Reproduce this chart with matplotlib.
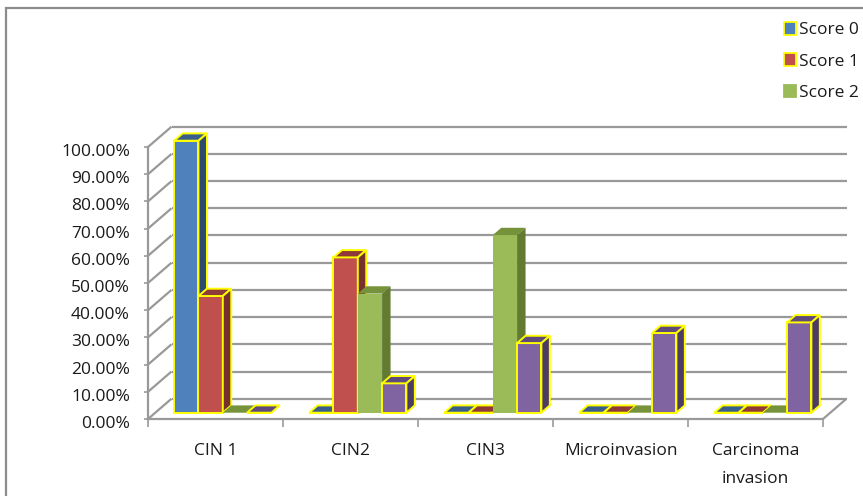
import matplotlib
matplotlib.use("Agg")
import matplotlib.pyplot as plt
from matplotlib.patches import Polygon, Rectangle, Patch
from matplotlib.transforms import ScaledTranslation

plt.rcParams['font.family'] = ['Open Sans', 'DejaVu Sans']

categories = ["CIN 1", "CIN2", "CIN3", "Microinvasion", "Carcinoma\ninvasion"]
series_names = ["Score 0", "Score 1", "Score 2", "Score 3"]
score0 = [100.0, 0.0, 0.0, 0.0, 0.0]
score1 = [42.9, 57.1, 0.0, 0.0, 0.0]
score2 = [0.0, 43.8, 65.3, 0.0, 0.0]
score3 = [0.0, 10.8, 25.6, 29.3, 33.2]
y_ticks = [0, 10, 20, 30, 40, 50, 60, 70, 80, 90, 100]

series = [score0, score1, score2, score3]
front_colors = ["#4f81bd", "#c0504d", "#9bbb59", "#8064a2"]
top_colors = ["#395e8c", "#8d3a38", "#76933c", "#5f4a7c"]
side_colors = ["#2d4b72", "#76302e", "#627b31", "#4c3b64"]
edge_colors = ["#ffff00", "#ffff00", "none", "#ffff00"]

FS = 12.5
TXT = "#1a1a1a"

W, H = 863, 496
fig = plt.figure(figsize=(W / 100, H / 100), dpi=100)
fig.patch.set_facecolor("white")

# chart frame
fig.add_artist(Rectangle((6 / W, -0.2), 1.2, 1.2 - 8.3 / H,
                         transform=fig.transFigure, fill=False,
                         edgecolor="#8c8c8c", linewidth=1.6))

# front plane of the 3-D plot area
ax = fig.add_axes([148 / W, (H - 419) / H, 675 / W, 272 / H])
ax.set_xlim(0, len(categories))
ax.set_ylim(0, 100)
ax.set_facecolor("none")

# depth of the box in data units
dxu = 23.5 / 135.0
dyu = 20.3 / 2.72
grid_kw = dict(color="#999999", linewidth=1.6, clip_on=False, zorder=1,
               solid_capstyle="butt")
n = len(categories)
for v in y_ticks:
    ax.plot([dxu, n + dxu], [v + dyu, v + dyu], **grid_kw)
    ax.plot([0, dxu], [v, v + dyu], **grid_kw)
# floor right edge
ax.plot([n, n + dxu], [0, dyu], **grid_kw)

# bars
bw = 0.18
f0 = 0.31
dep = 0.36
for k, vals in enumerate(series):
    for i, v in enumerate(vals):
        x0 = i + 0.5 + (k - 2) * bw + f0 * dxu
        y0 = f0 * dyu
        ec = edge_colors[k]
        lw = 1.4 if ec != "none" else 0
        ax.bar(x0, v, width=bw, bottom=y0, align="edge",
               color=front_colors[k], edgecolor=ec, linewidth=lw,
               clip_on=False, zorder=3 + k)
        ddx, ddy = dep * dxu, dep * dyu
        top = Polygon([(x0, y0 + v), (x0 + bw, y0 + v),
                       (x0 + bw + ddx, y0 + v + ddy), (x0 + ddx, y0 + v + ddy)],
                      closed=True, facecolor=top_colors[k], edgecolor=ec,
                      linewidth=lw, clip_on=False, zorder=3 + k)
        ax.add_patch(top)
        if v > 0:
            side = Polygon([(x0 + bw, y0), (x0 + bw, y0 + v),
                            (x0 + bw + ddx, y0 + v + ddy), (x0 + bw + ddx, y0 + ddy)],
                           closed=True, facecolor=side_colors[k], edgecolor=ec,
                           linewidth=lw, clip_on=False, zorder=3 + k)
            ax.add_patch(side)

# axes
for s in ["top", "right"]:
    ax.spines[s].set_visible(False)
for s in ["left", "bottom"]:
    ax.spines[s].set_color("#999999")
    ax.spines[s].set_linewidth(1.6)
    ax.spines[s].set_zorder(2)

ax.set_yticks(y_ticks)
ax.set_yticklabels([f"{t:.2f}%" for t in y_ticks])
ax.tick_params(axis="y", length=3, width=1.2, color="#999999", pad=10,
               labelsize=FS, labelcolor=TXT)
shift = ScaledTranslation(0, -3 / 100, fig.dpi_scale_trans)
for lab in ax.get_yticklabels():
    lab.set_transform(lab.get_transform() + shift)

ax.set_xticks(range(n + 1))
ax.set_xticklabels([])
ax.set_xticks([i + 0.5 for i in range(n)], minor=True)
ax.set_xticklabels(categories, minor=True, linespacing=2.0)
ax.tick_params(axis="x", which="major", length=6, width=1.2, color="#999999")
ax.tick_params(axis="x", which="minor", length=0, pad=17.5, labelsize=FS,
               labelcolor=TXT)

# legend
handles = [Patch(facecolor=front_colors[k],
                 edgecolor=edge_colors[k] if edge_colors[k] != "none" else front_colors[k],
                 linewidth=1.3, label=series_names[k]) for k in range(3)]
fig.legend(handles=handles, loc="upper left",
           bbox_to_anchor=(777 / W, 1 - 15 / H), frameon=False,
           fontsize=FS, handlelength=0.68, handleheight=0.75,
           handletextpad=0.2, labelspacing=0.86, borderaxespad=0,
           labelcolor=TXT)

fig.savefig("out.png", dpi=100)
